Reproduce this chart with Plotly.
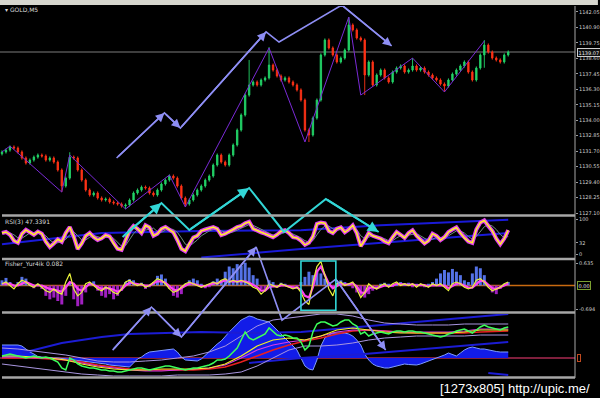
import plotly.graph_objects as go

# ---------------- data ----------------
closes = [
    1131.64, 1131.78, 1132.01, 1131.93, 1131.64, 1131.19, 1130.82, 1131.04, 1131.26, 1131.41,
    1131.34, 1131.04, 1131.19, 1130.89, 1130.30, 1129.11, 1129.70, 1131.26, 1131.19, 1130.30,
    1129.55, 1128.81, 1128.44, 1128.59, 1128.22, 1128.07, 1128.14, 1127.92, 1127.84, 1127.77,
    1127.62, 1127.70, 1128.07, 1128.59, 1128.81, 1129.03, 1128.96, 1128.59, 1128.44, 1128.81,
    1129.26, 1129.55, 1129.85, 1129.70, 1129.11, 1128.22, 1127.77, 1128.07, 1128.44, 1128.81,
    1129.11, 1129.55, 1129.85, 1130.67, 1131.41, 1130.89, 1130.67, 1131.41, 1132.16, 1133.27,
    1134.39, 1135.87, 1136.62, 1136.84, 1136.62, 1136.99, 1137.14, 1138.10, 1137.73, 1137.29,
    1136.99, 1137.14, 1136.84, 1136.62, 1136.25, 1135.50, 1133.27, 1132.90, 1134.16, 1135.50,
    1138.85, 1139.96, 1139.37, 1138.85, 1138.33, 1138.62, 1139.22, 1141.08, 1140.71, 1140.11,
    1139.96, 1137.36, 1138.33, 1136.62, 1137.36, 1137.73, 1137.14, 1136.84, 1137.58, 1137.88,
    1138.03, 1137.58, 1137.73, 1138.03, 1137.73, 1137.88, 1137.58, 1137.36, 1137.14, 1136.99,
    1136.69, 1136.54, 1136.99, 1137.43, 1137.73, 1138.03, 1138.33, 1137.58, 1136.99, 1137.88,
    1138.85, 1139.59, 1139.07, 1138.62, 1138.48, 1138.33, 1138.85, 1139.07,
]
first_open = 1131.50
wick = 0.12
high_spikes = {17: 1131.62, 62: 1138.48, 67: 1139.44, 87: 1141.67, 103: 1138.62, 121: 1139.96}
low_spikes = {15: 1128.66, 31: 1127.40, 46: 1127.55, 77: 1132.38, 91: 1135.87, 111: 1136.10, 121: 1137.90}
current_price = 1139.07
price_ticks = [1127.10, 1128.25, 1129.40, 1130.55, 1131.70, 1132.85, 1134.00,
               1135.15, 1136.30, 1137.45, 1138.60, 1139.75, 1140.90, 1142.05]

zigzag_x = [0, 2, 15, 17, 31, 42, 46, 67, 76, 87, 90, 103, 111, 121]
zigzag_y = [1131.64, 1132.08, 1128.66, 1131.41, 1127.40, 1129.93, 1127.55, 1139.37,
            1132.38, 1141.67, 1135.87, 1138.62, 1136.10, 1139.89]

rsi = [
    60, 63, 55, 38, 32, 58, 69, 62, 55, 64,
    58, 35, 20, 30, 42, 35, 60, 77, 50, 14,
    30, 52, 60, 48, 40, 45, 54, 50, 30, 15,
    12, 40, 66, 80, 72, 60, 82, 76, 52, 58,
    72, 77, 70, 62, 40, 15, 8, 30, 47, 52,
    66, 70, 74, 77, 72, 54, 58, 63, 70, 77,
    80, 88, 92, 72, 66, 62, 58, 52, 48, 55,
    65, 68, 60, 48, 46, 38, 26, 32, 50, 86,
    90, 88, 66, 60, 72, 76, 62, 70, 82, 60,
    22, 40, 60, 52, 48, 44, 36, 31, 48, 63,
    55, 46, 60, 68, 52, 40, 30, 38, 58, 52,
    40, 48, 63, 70, 76, 60, 46, 36, 32, 70,
    90, 96, 80, 66, 44, 28, 44, 68,
]
rsi_signal = [
    58, 60, 60, 55, 46, 45, 53, 60, 61, 60,
    60, 52, 40, 32, 32, 36, 42, 55, 64, 52,
    40, 40, 48, 53, 50, 46, 47, 50, 45, 32,
    22, 24, 40, 58, 70, 72, 68, 72, 74, 64,
    62, 68, 72, 70, 62, 46, 28, 22, 30, 40,
    52, 60, 66, 70, 72, 66, 62, 60, 63, 68,
    73, 78, 84, 82, 76, 70, 64, 58, 54, 53,
    58, 62, 62, 58, 52, 46, 38, 34, 38, 55,
    70, 80, 80, 72, 68, 70, 68, 68, 72, 70,
    52, 44, 48, 52, 50, 48, 44, 38, 38, 46,
    52, 52, 54, 58, 58, 52, 44, 38, 42, 48,
    46, 46, 52, 60, 66, 66, 60, 50, 42, 50,
    64, 78, 84, 80, 70, 56, 46, 50,
]
rsi_ticks = [100, 32, 0]
rsi_trend_up_x = [0, 25, 50, 75, 95, 127]
rsi_trend_up_y = [28, 60, 66, 68, 82, 98]
rsi_trend_lo_x = [50, 75, 127]
rsi_trend_lo_y = [-10, 14, 60]

fisher_hist = [
    0.15, 0.22, 0.10, -0.05, 0.10, 0.25, 0.20, 0.05, -0.08, 0.05,
    -0.10, -0.30, -0.40, -0.35, -0.45, -0.55, -0.30, 0.10, -0.40, -0.60,
    -0.55, -0.20, 0.10, 0.12, -0.15, -0.30, -0.35, -0.25, -0.40, -0.30,
    -0.15, 0.10, 0.18, 0.15, 0.05, 0.08, -0.10, -0.05, 0.10, 0.28,
    0.32, 0.20, -0.10, -0.30, -0.35, -0.25, 0.05, 0.15, 0.20, 0.15,
    0.05, -0.08, -0.05, 0.12, 0.20, 0.15, 0.40, 0.55, 0.50, 0.62,
    0.58, 0.66, 0.52, 0.30, 0.20, -0.10, -0.15, 0.15, 0.10, -0.05,
    0.08, 0.05, -0.05, -0.08, -0.05, 0.10, 0.25, 0.40, 0.30, 0.45,
    0.35, 0.20, 0.10, -0.05, 0.08, 0.15, 0.10, 0.05, -0.08, -0.20,
    -0.30, -0.35, -0.25, -0.15, -0.10, 0.05, 0.08, 0.05, -0.03, 0.05,
    0.10, 0.05, 0.08, -0.05, 0.05, 0.02, -0.05, 0.05, 0.10, 0.20,
    0.35, 0.45, 0.38, 0.48, 0.40, 0.30, 0.15, 0.10, 0.35, 0.55,
    0.50, 0.30, -0.05, -0.20, -0.25, -0.10, 0.05, 0.10,
]
fisher_fast = [
    0.05, 0.10, 0.00, -0.10, 0.05, 0.15, 0.10, 0.00, -0.05, 0.05,
    -0.05, -0.15, -0.20, -0.10, -0.20, -0.25, 0.10, 0.35, -0.10, -0.30,
    -0.20, 0.05, 0.10, 0.00, -0.10, -0.15, -0.05, -0.10, -0.20, -0.25,
    -0.10, 0.10, 0.15, 0.05, 0.00, 0.05, -0.05, 0.00, 0.10, 0.20,
    0.15, 0.05, -0.10, -0.20, -0.15, -0.05, 0.05, 0.10, 0.05, 0.00,
    -0.05, 0.00, 0.05, 0.10, 0.05, 0.15, 0.20, 0.10, 0.15, 0.10,
    0.15, 0.10, 0.05, -0.05, -0.10, -0.25, -0.15, 0.05, 0.00, -0.05,
    0.05, 0.00, -0.05, -0.10, -0.05, -0.20, -0.45, -0.55, 0.10, 0.55,
    0.70, 0.30, -0.10, -0.30, 0.05, 0.10, 0.00, 0.05, 0.10, -0.10,
    -0.35, -0.20, 0.05, -0.05, -0.10, 0.00, 0.05, -0.05, 0.05, 0.10,
    0.00, 0.05, 0.00, 0.05, -0.05, 0.05, 0.00, -0.05, 0.05, 0.00,
    0.05, -0.05, -0.15, 0.05, 0.10, 0.05, -0.05, -0.10, -0.05, 0.15,
    0.20, 0.10, -0.05, -0.15, -0.10, -0.05, 0.05, 0.10,
]
fisher_slow = [
    0.05, 0.05, 0.05, 0.00, 0.00, 0.05, 0.10, 0.05, 0.00, 0.00,
    0.00, -0.05, -0.10, -0.12, -0.15, -0.18, -0.05, 0.10, 0.05, -0.10,
    -0.15, -0.05, 0.05, 0.02, -0.05, -0.10, -0.08, -0.08, -0.12, -0.18,
    -0.12, 0.00, 0.08, 0.06, 0.02, 0.02, 0.00, 0.00, 0.05, 0.12,
    0.12, 0.08, -0.02, -0.12, -0.14, -0.08, 0.00, 0.06, 0.05, 0.02,
    -0.02, -0.02, 0.02, 0.06, 0.06, 0.10, 0.15, 0.12, 0.12, 0.12,
    0.12, 0.12, 0.08, 0.02, -0.05, -0.15, -0.15, -0.05, -0.02, -0.03,
    0.00, 0.00, -0.03, -0.06, -0.06, -0.12, -0.30, -0.35, -0.05, 0.40,
    0.55, 0.30, 0.05, -0.08, -0.02, 0.05, 0.03, 0.03, 0.06, -0.02,
    -0.20, -0.22, -0.08, -0.05, -0.08, -0.04, 0.00, -0.02, 0.00, 0.05,
    0.03, 0.03, 0.02, 0.03, 0.00, 0.02, 0.01, -0.02, 0.01, 0.01,
    0.02, 0.00, -0.08, -0.02, 0.05, 0.05, 0.00, -0.06, -0.06, 0.05,
    0.14, 0.12, 0.02, -0.08, -0.10, -0.06, 0.00, 0.06,
]
fisher_ticks = [0.635, -0.694]
fisher_box_x = [75.0, 83.75]
fisher_box_y = [-0.72, 0.71]

p4_area = [
    1.3, 1.3, 1.3, 1.3, 1.3, 1.2, 0.9, 0.6, 0.4, 0.15,
    0.1, 0.05, 0.0, 0.0, 0.0, -0.05, -0.1, -0.1, -0.15, -0.2,
    -0.25, -0.3, -0.35, -0.4, -0.5, -0.55, -0.6, -0.7, -0.75, -0.8,
    -0.85, -0.9, -0.9, -0.5, -0.1, 0.1, 0.4, 0.6, 0.65, 0.7,
    0.8, 0.8, 0.85, 0.9, 0.6, 0.1, -0.2, -0.25, -0.3, -0.3,
    -0.1, 0.3, 0.6, 1.0, 1.4, 1.7, 2.2, 2.6, 3.0, 3.4,
    3.8, 4.0, 4.2, 4.1, 3.9, 3.8, 3.7, 3.6, 3.2, 2.8,
    2.3, 1.9, 1.6, 1.2, 0.8, 0.0, -0.8, -1.1, -1.2, -0.2,
    1.2, 2.0, 2.3, 2.5, 2.5, 2.5, 2.5, 2.4, 2.2, 1.8,
    1.3, 0.4, -0.2, -0.6, -0.8, -0.9, -1.0, -1.0, -0.9, -0.8,
    -0.7, -0.6, -0.65, -0.7, -0.7, -0.6, -0.45, -0.3, -0.2, -0.05,
    0.1, 0.3, 0.5, 0.35, 0.2, 0.5, 0.8, 1.0, 1.1, 1.0,
    0.9, 0.9, 0.8, 0.7, 0.65, 0.6, 0.6, 0.6,
]
p4_green = [
    0.2, 0.3, 0.4, 0.3, 0.2, 0.1, 0.0, 0.1, 0.2, 0.1, 0.0, 0.1, 0.0, -0.2, -0.4,
    -1.0, -1.2, 0.0, -0.2, -0.6, -0.8, -0.9, -1.0, -1.0, -1.1, -1.2, -1.2, -1.3, -1.3, -1.4,
    -1.4, -1.3, -1.2, -1.1, -1.0, -1.0, -1.1, -1.2, -1.1, -1.0, -0.9, -0.8, -0.8, -0.9, -1.0,
    -1.1, -1.2, -1.1, -1.0, -1.0, -0.9, -0.8, -0.7, -0.5, -0.2, -0.2, -0.1, 0.2, 0.6, 1.0,
    1.8, 2.6, 2.0, 1.8, 2.0, 2.2, 2.4, 3.0, 2.6, 2.3, 2.2, 2.3, 2.2, 2.0, 2.0,
    1.6, 0.8, 1.2, 2.6, 3.4, 3.6, 3.6, 3.4, 3.2, 3.3, 3.6, 3.8, 3.8, 3.4, 3.2,
    2.4, 2.6, 2.2, 2.4, 2.5, 2.6, 2.5, 2.4, 2.6, 2.7, 2.7, 2.6, 2.7, 2.7, 2.6,
    2.6, 2.5, 2.4, 2.3, 2.2, 2.1, 2.2, 2.4, 2.5, 2.7, 2.8, 2.9, 2.7, 2.5, 2.8,
    3.1, 3.3, 3.1, 3.0, 2.9, 2.8, 3.0, 3.1,
]
smooth_x = list(range(0, 128, 4)) + [127]
p4_yellow = [0.2, 0.2, 0.1, 0.0, -0.2, -0.6, -0.9, -1.1, -1.2, -1.2, -1.1, -1.1, -1.1, -1.0, -0.6, 0.2,
             1.2, 1.8, 2.0, 1.8, 2.2, 2.8, 3.0, 2.8, 2.6, 2.5, 2.5, 2.5, 2.5, 2.6, 2.8, 2.8, 2.8]
p4_red = [0, 0, 0, -0.1, -0.2, -0.4, -0.7, -0.9, -1.1, -1.2, -1.2, -1.2, -1.2, -1.1, -0.9, -0.4,
          0.2, 0.8, 1.3, 1.7, 2.0, 2.4, 2.7, 2.8, 2.7, 2.6, 2.5, 2.5, 2.5, 2.5, 2.6, 2.7, 2.7]
p4_magenta = [0.1, 0.1, 0, 0, -0.2, -0.5, -0.8, -1.0, -1.2, -1.3, -1.3, -1.2, -1.1, -1.0, -0.7, 0.0,
              0.8, 1.3, 1.6, 1.8, 2.2, 2.6, 2.8, 2.8, 2.7, 2.6, 2.6, 2.6, 2.6, 2.7, 2.9, 2.9, 2.9]
p4_upper = [1.0, 0.9, 0.7, 0.5, 0.3, 0.0, -0.3, -0.4, -0.4, -0.3, -0.2, 0.0, 0.2, 0.6, 1.2, 2.2,
            3.2, 3.8, 4.0, 4.2, 4.4, 4.4, 4.2, 3.8, 3.5, 3.4, 3.3, 3.3, 3.3, 3.4, 3.4, 3.4, 3.4]
p4_lower = [-0.6, -0.8, -1.0, -1.2, -1.4, -1.6, -1.7, -1.8, -1.8, -1.8, -1.8, -1.7, -1.7, -1.7, -1.6, -1.4,
            -0.8, 0.0, 0.8, 1.2, 1.2, 1.3, 1.5, 1.8, 2.0, 2.1, 2.2, 2.2, 2.2, 2.2, 2.3, 2.3, 2.3]
p4_trend_a_x = [5, 15, 25, 32, 50, 62, 75, 100, 127]
p4_trend_a_y = [0.5, 1.5, 2.1, 2.4, 2.6, 2.5, 2.6, 3.5, 4.4]
p4_trend_b_x = [62, 75, 91, 127]
p4_trend_b_y = [-0.5, 0.0, 0.4, 1.6]
p4_trend_c_x = [122, 127]
p4_trend_c_y = [-1.5, -1.7]

# hand-drawn objects (bar index, chart price extended below the price window)
lav_top_x = [28.75, 40.75, 44.75, 66.25, 69.5, 85.25, 97.75]
lav_top_y = [1131.19, 1134.54, 1133.42, 1140.56, 1139.81, 1142.56, 1139.52]
lav_top_arrows = [1, 2, 3, 6]
cyan_x = [30.25, 40.0, 47.0, 62.0, 70.75, 81.25, 94.5]
cyan_y = [1125.32, 1127.84, 1125.84, 1128.96, 1125.69, 1128.14, 1125.69]
cyan_arrows = [1, 3, 6]
lav_low_x = [27.75, 37.5, 45.0, 63.75, 70.25, 83.75, 96.25]
lav_low_y = [1116.91, 1120.11, 1117.88, 1124.57, 1119.14, 1122.19, 1116.91]
lav_low_arrows = [1, 2, 3, 6]

for name, arr in [("rsi", rsi), ("sig", rsi_signal), ("hist", fisher_hist), ("ff", fisher_fast),
                  ("fs", fisher_slow), ("area", p4_area), ("green", p4_green)]:
    assert len(arr) == len(closes), (name, len(arr))
for arr in [p4_yellow, p4_red, p4_magenta, p4_upper, p4_lower]:
    assert len(arr) == len(smooth_x), len(arr)

# ---------------- build ----------------
N = len(closes)
idx = list(range(N))
opens = [first_open] + closes[:-1]
highs = [max(o, c) + wick for o, c in zip(opens, closes)]
lows = [min(o, c) - wick for o, c in zip(opens, closes)]
for k, v in high_spikes.items():
    highs[k] = max(highs[k], v)
for k, v in low_spikes.items():
    lows[k] = min(lows[k], v)

W, H = 600, 398
PT, PB, PR = 6, 21, 23
PH = H - PT - PB          # 371
PW = W - PR               # 577
YB = H - PB               # 377


def fy(py):
    return (YB - py) / PH


def fx(px):
    return px / PW


XR = [-0.5, 143.75]
main_rng = [1127.03, 1142.49]
rsi_rng = [-11.43, 105.7]
fis_rng = [-0.739, 0.739]
p4_rng = [-1.8, 4.4]
over_rng = [1114.91, 1142.49]

fig = go.Figure()

# main window
fig.add_trace(go.Candlestick(
    x=idx, open=opens, high=highs, low=lows, close=closes,
    increasing=dict(line=dict(color="#22d468", width=0.9), fillcolor="#22d468"),
    decreasing=dict(line=dict(color="#ff3216", width=0.9), fillcolor="#ff3216"),
    whiskerwidth=0, xaxis="x", yaxis="y", showlegend=False, hoverinfo="skip"))
fig.add_trace(go.Scatter(x=zigzag_x, y=zigzag_y, mode="lines",
                         line=dict(color="#7a2ad6", width=1), xaxis="x", yaxis="y",
                         showlegend=False, hoverinfo="skip"))

# RSI window
fig.add_trace(go.Scatter(x=rsi_trend_up_x, y=rsi_trend_up_y, mode="lines",
                         line=dict(color="#1a1ad8", width=2), xaxis="x2", yaxis="y2", showlegend=False))
fig.add_trace(go.Scatter(x=rsi_trend_lo_x, y=rsi_trend_lo_y, mode="lines",
                         line=dict(color="#1a1ad8", width=2), xaxis="x2", yaxis="y2", showlegend=False))
fig.add_trace(go.Scatter(x=idx, y=rsi_signal, mode="lines",
                         line=dict(color="#6f8f80", width=1), xaxis="x2", yaxis="y2", showlegend=False))
fig.add_trace(go.Scatter(x=idx, y=rsi, mode="lines",
                         line=dict(color="#e040f0", width=4), xaxis="x2", yaxis="y2", showlegend=False))
fig.add_trace(go.Scatter(x=idx, y=rsi, mode="lines",
                         line=dict(color="#fff22a", width=1.5), xaxis="x2", yaxis="y2", showlegend=False))

# Fisher window
fig.add_trace(go.Bar(x=idx, y=fisher_hist, width=0.75,
                     marker=dict(color=["#5472e6" if v >= 0 else "#a020c0" for v in fisher_hist],
                                 line=dict(width=0)),
                     xaxis="x3", yaxis="y3", showlegend=False))
fig.add_trace(go.Scatter(x=idx, y=fisher_slow, mode="lines",
                         line=dict(color="#ff44f0", width=2.2), xaxis="x3", yaxis="y3", showlegend=False))
fig.add_trace(go.Scatter(x=idx, y=fisher_fast, mode="lines",
                         line=dict(color="#e8f23a", width=1.2), xaxis="x3", yaxis="y3", showlegend=False))

# 4th window
fig.add_trace(go.Scatter(x=idx, y=p4_area, mode="lines", fill="tozeroy",
                         fillcolor="rgb(18,28,232)", line=dict(color="#7f9cff", width=1),
                         xaxis="x4", yaxis="y4", showlegend=False))
for tx, ty in [(p4_trend_a_x, p4_trend_a_y), (p4_trend_b_x, p4_trend_b_y), (p4_trend_c_x, p4_trend_c_y)]:
    fig.add_trace(go.Scatter(x=tx, y=ty, mode="lines", line=dict(color="#1c1cd4", width=2),
                             xaxis="x4", yaxis="y4", showlegend=False))
for arr, col, w in [(p4_upper, "#a996e0", 1), (p4_lower, "#a996e0", 1),
                    (p4_red, "#e82020", 1.6), (p4_magenta, "#d63ae6", 1.2), (p4_yellow, "#f2f024", 1.2)]:
    fig.add_trace(go.Scatter(x=smooth_x, y=arr, mode="lines", line=dict(color=col, width=w),
                             xaxis="x4", yaxis="y4", showlegend=False))
fig.add_trace(go.Scatter(x=idx, y=p4_green, mode="lines", line=dict(color="#3cff5a", width=1.5),
                         xaxis="x4", yaxis="y4", showlegend=False))

# overlay: hand drawn lines
LAV = "#8e8ef4"
CYAN = "#32d6d6"
annotations = []
for px_, py_, arr_idx, col, w in [(lav_top_x, lav_top_y, lav_top_arrows, LAV, 1.6),
                                  (cyan_x, cyan_y, cyan_arrows, CYAN, 2),
                                  (lav_low_x, lav_low_y, lav_low_arrows, LAV, 1.6)]:
    fig.add_trace(go.Scatter(x=px_, y=py_, mode="lines", line=dict(color=col, width=w),
                             xaxis="x5", yaxis="y5", showlegend=False, hoverinfo="skip"))
    for k in arr_idx:
        annotations.append(dict(x=px_[k], y=py_[k], ax=px_[k - 1], ay=py_[k - 1],
                                xref="x5", yref="y5", axref="x5", ayref="y5", text="",
                                showarrow=True, arrowhead=2, arrowsize=1.1, arrowwidth=w,
                                arrowcolor=col, standoff=0))

# ---------------- layout ----------------
tickfont = dict(family="DejaVu Sans", size=5, color="#cfcfcf")
yax_common = dict(side="right", showgrid=False, zeroline=False, showline=False,
                  ticks="outside", ticklen=2, tickcolor="#9a9a9a", tickfont=tickfont, fixedrange=True)
xax_common = dict(range=XR, visible=False, showgrid=False, zeroline=False, fixedrange=True)

shapes = []
SEP = "#a6a6a6"
for py in [215.5, 259.0, 312.5, 377.5]:
    shapes.append(dict(type="line", xref="paper", yref="paper", x0=fx(2), x1=1.0,
                       y0=fy(py), y1=fy(py), line=dict(color=SEP, width=2.5)))
shapes.append(dict(type="line", xref="paper", yref="paper", x0=1.0, x1=1.0,
                   y0=fy(378), y1=fy(6), line=dict(color=SEP, width=1)))
shapes.append(dict(type="rect", xref="paper", yref="paper", x0=-0.01, x1=fx(W),
                   y0=fy(5), y1=fy(-1), fillcolor="#d6d6ce", line=dict(width=0), layer="above"))
shapes.append(dict(type="line", xref="paper", yref="y", x0=0, x1=1, y0=current_price, y1=current_price,
                   line=dict(color="#7c7c7c", width=1), layer="below"))
shapes.append(dict(type="line", xref="paper", yref="y3", x0=0, x1=1, y0=0, y1=0,
                   line=dict(color="#c86a10", width=1.5), layer="below"))
shapes.append(dict(type="line", xref="paper", yref="y4", x0=0, x1=1, y0=0, y1=0,
                   line=dict(color="#a82a50", width=1.5), layer="below"))
shapes.append(dict(type="rect", xref="x3", yref="y3", x0=fisher_box_x[0], x1=fisher_box_x[1],
                   y0=fisher_box_y[0], y1=fisher_box_y[1], line=dict(color=CYAN, width=1.6)))

lab = dict(family="DejaVu Sans", size=6, color="#d8d8d8")
annotations += [
    dict(xref="paper", yref="paper", x=fx(3), y=fy(10), text="▾ GOLD,M5", showarrow=False,
         xanchor="left", yanchor="middle", font=lab),
    dict(xref="paper", yref="paper", x=fx(3), y=fy(221), text="RSI(3) 47.3391", showarrow=False,
         xanchor="left", yanchor="middle", font=lab),
    dict(xref="paper", yref="paper", x=fx(3), y=fy(264), text="Fisher_Yur4ik 0.082", showarrow=False,
         xanchor="left", yanchor="middle", font=lab),
    dict(xref="paper", yref="y", x=fx(579), y=current_price, text=f"{current_price:.2f}", showarrow=False,
         xanchor="left", yanchor="middle", font=dict(family="DejaVu Sans", size=5, color="#e8e8e8"),
         bgcolor="#101010", bordercolor="#cfcfcf", borderwidth=1, borderpad=0.5),
    dict(xref="paper", yref="y3", x=fx(579), y=0, text="0.00", showarrow=False,
         xanchor="left", yanchor="middle", font=dict(family="DejaVu Sans", size=5, color="#e0e0e0"),
         bordercolor="#7aa030", borderwidth=1, borderpad=0.5),
    dict(xref="paper", yref="y4", x=fx(579), y=0, text=" ", showarrow=False,
         xanchor="left", yanchor="middle", font=dict(family="DejaVu Sans", size=4, color="#e0e0e0"),
         bordercolor="#c04a20", borderwidth=1, borderpad=0.5),
    dict(xref="paper", yref="paper", x=fx(594), y=fy(388), text="[1273x805] http://upic.me/",
         showarrow=False, xanchor="right", yanchor="middle",
         font=dict(family="Liberation Sans, Arial, sans-serif", size=13, color="#ffffff")),
]

fig.update_layout(
    width=W, height=H,
    margin=dict(l=0, r=PR, t=PT, b=PB, pad=0),
    paper_bgcolor="#000000", plot_bgcolor="rgba(0,0,0,0)",
    showlegend=False, bargap=0.2, boxgap=0.5,
    xaxis=dict(xax_common, anchor="y", rangeslider=dict(visible=False), domain=[0, 1]),
    xaxis2=dict(xax_common, anchor="y2", domain=[0, 1]),
    xaxis3=dict(xax_common, anchor="y3", domain=[0, 1]),
    xaxis4=dict(xax_common, anchor="y4", domain=[0, 1]),
    xaxis5=dict(xax_common, anchor="y5", domain=[0, 1]),
    yaxis=dict(yax_common, anchor="x", domain=[fy(214), fy(6)], range=main_rng,
               tickvals=price_ticks, ticktext=[f"{v:.2f}" for v in price_ticks]),
    yaxis2=dict(yax_common, anchor="x2", domain=[fy(258), fy(217)], range=rsi_rng,
                tickvals=rsi_ticks, ticktext=[str(v) for v in rsi_ticks]),
    yaxis3=dict(yax_common, anchor="x3", domain=[fy(311), fy(260)], range=fis_rng,
                tickvals=fisher_ticks, ticktext=[f"{v:g}" for v in fisher_ticks]),
    yaxis4=dict(yax_common, anchor="x4", domain=[fy(376), fy(314)], range=p4_rng,
                showticklabels=False, ticks=""),
    yaxis5=dict(anchor="x5", domain=[0, 1], range=over_rng, visible=False, fixedrange=True),
    shapes=shapes, annotations=annotations,
)

fig.write_html("out.html")
